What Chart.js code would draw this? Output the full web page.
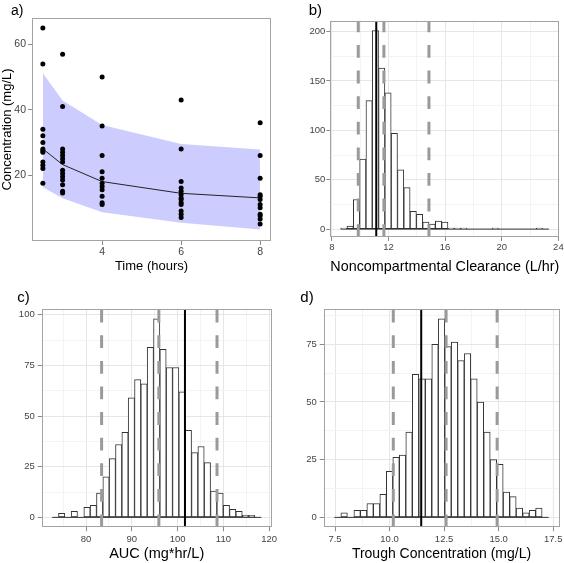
<!DOCTYPE html>
<html>
<head>
<meta charset="utf-8">
<script src="https://cdn.jsdelivr.net/npm/chart.js@4.4.1/dist/chart.umd.min.js"></script>
<style>
  body { margin: 0; background: #fff; }
  #wrap { position: relative; width: 564px; height: 563px; }
  canvas { position: absolute; }
</style>
</head>
<body>
<div id="wrap">
  <canvas id="chartA" width="282" height="281" style="left:0;top:0"></canvas>
  <canvas id="chartB" width="282" height="281" style="left:282px;top:0"></canvas>
  <canvas id="chartC" width="282" height="282" style="left:0;top:281px"></canvas>
  <canvas id="chartD" width="282" height="282" style="left:282px;top:281px"></canvas>
</div>
<script>
// a) observed concentrations at each sampling time + prediction band
const sampleTimes = [2.5, 3, 4, 6, 8];
const conc2h5 = [65, 54, 34, 32, 30, 28, 27.5, 27, 24, 23, 22, 17.5];
const conc3h = [57, 41, 28, 27, 26, 25, 24, 21.5, 20.5, 19.5, 18.5, 17, 15, 14.5];
const conc4h = [50, 35, 26, 21, 19, 17.5, 16.5, 15.5, 13.5, 11.5, 11];
const conc6h = [43, 28, 18, 16, 15, 14, 13, 12.5, 11.5, 11, 9, 8, 7];
const conc8h = [36, 26, 19, 14, 13.5, 12.5, 11, 10, 8, 7.5, 6.5, 5];
const bandUpper = [51.2, 42.8, 35.3, 29.5, 27.8];
const bandMedian = [28.0, 23.2, 18.0, 14.4, 13.0];
const bandLower = [16.3, 12.9, 8.6, 5.4, 3.3];
const timeTicks = [4, 6, 8];
const concTicks = [20, 40, 60];
const concLabels = ['20', '40', '60'];

// b) noncompartmental clearance
const clBinWidth = 0.4455;
const clBins = [8.853, 9.298, 9.744, 10.189, 10.635, 11.080, 11.526, 11.971, 12.417, 12.862, 13.308,
  13.753, 14.199, 14.644, 15.090, 15.535, 15.981, 16.426, 16.872, 17.317, 17.763, 18.208, 18.654,
  19.099, 19.545, 19.990, 20.436, 20.881, 21.327, 21.772, 22.218, 22.663, 23.109];
const clCounts = [1, 3, 30, 71, 130, 201, 163, 138, 97, 60, 42, 18, 15, 7, 5, 8, 7, 1, 1, 1,
  0, 0, 0, 0, 1, 0, 0, 0, 0, 0, 0, 1, 0];
const clObserved = 11.14;
const clInterval = [9.87, 11.68, 14.86];
const clXTicks = [8, 12, 16, 20, 24];
const clXMinor = [10, 14, 18, 22];
const clYTicks = [0, 50, 100, 150, 200];
const clYMinor = [25, 75, 125, 175];

// c) AUC
const aucBinWidth = 1.3836;
const aucBins = [73.292, 74.676, 76.059, 77.443, 78.826, 80.210, 81.594, 82.977, 84.361, 85.744,
  87.128, 88.512, 89.895, 91.279, 92.662, 94.046, 95.430, 96.813, 98.197, 99.580, 100.964,
  102.348, 103.731, 105.115, 106.498, 107.882, 109.266, 110.649, 112.033, 113.416, 114.800,
  116.184, 117.567];
const aucCounts = [0, 2, 0, 3, 0, 5, 6, 12, 20, 29, 36, 42, 59, 68, 66, 84, 98, 83, 74, 74, 62,
  43, 32, 35, 27, 13, 12, 6, 4, 3, 1, 1, 0];
const aucObserved = 101.6;
const aucInterval = [83.4, 95.9, 108.6];
const aucXTicks = [80, 90, 100, 110, 120];
const aucXMinor = [75, 85, 95, 105, 115];
const countTicks100 = [0, 25, 50, 75, 100];
const countMinor100 = [12.5, 37.5, 62.5, 87.5];

// d) trough concentration
const trBinWidth = 0.29758;
const trBins = [7.619, 7.916, 8.214, 8.512, 8.809, 9.107, 9.404, 9.702, 10.000, 10.297, 10.595,
  10.892, 11.190, 11.488, 11.785, 12.083, 12.380, 12.678, 12.976, 13.273, 13.571, 13.868,
  14.166, 14.464, 14.761, 15.059, 15.356, 15.654, 15.952, 16.249, 16.547, 16.844, 17.142];
const trCounts = [0, 2, 0, 3, 3, 6, 6, 10, 20, 26, 27, 37, 62, 60, 60, 75, 86, 74, 76, 68, 71,
  60, 50, 37, 25, 23, 11, 9, 4, 2, 3, 4, 0];
const trObserved = 11.45;
const trInterval = [10.17, 12.59, 14.93];
const trXTicks = [7.5, 10, 12.5, 15, 17.5];
const trXLabels = ['7.5', '10.0', '12.5', '15.0', '17.5'];
const trXMinor = [8.75, 11.25, 13.75, 16.25];
const countTicks75 = [0, 25, 50, 75];

Chart.defaults.font.family = "'Liberation Sans', Arial, sans-serif";
Chart.defaults.animation = false;

// grey box round the panel
const frame = {
  id: 'frame',
  afterDatasetsDraw(chart) {
    const { ctx, chartArea: a } = chart;
    ctx.save();
    ctx.strokeStyle = '#a3a3a3';
    ctx.lineWidth = 1;
    ctx.strokeRect(Math.round(a.left) + 0.5, Math.round(a.top) + 0.5,
      Math.round(a.right - a.left) - 1, Math.round(a.bottom - a.top) - 1);
    ctx.restore();
  }
};

// the "a)" "b)" ... tags
const panelLabel = {
  id: 'panelLabel',
  afterDraw(chart, args, opts) {
    const ctx = chart.ctx;
    ctx.save();
    ctx.font = opts.size + "px 'Liberation Sans', Arial, sans-serif";
    ctx.fillStyle = '#000';
    ctx.textBaseline = 'alphabetic';
    ctx.fillText(opts.text, opts.x, opts.y);
    ctx.restore();
  }
};

const sameTick = (a, b) => Math.abs(a - b) < 1e-6;

function makeScale(o) {
  const major = o.major;
  const minor = o.minor || [];
  const labels = o.labels || major.map(String);
  const isMajor = v => major.some(m => sameTick(m, v));
  return {
    type: 'linear',
    position: o.isX ? 'bottom' : 'left',
    min: o.min,
    max: o.max,
    offset: false,
    afterBuildTicks: s => { s.ticks = major.concat(minor).map(v => ({ value: v })); },
    afterFit: s => {
      if (o.isX) { s.height = o.fit; s.paddingLeft = 0; s.paddingRight = 0; }
      else { s.width = o.fit; s.paddingTop = 0; s.paddingBottom = 0; }
    },
    ticks: {
      autoSkip: false,
      maxRotation: 0,
      minRotation: 0,
      z: 1,
      padding: o.tickPad,
      color: '#444',
      font: { size: o.tickSize },
      callback: v => {
        const i = major.findIndex(m => sameTick(m, v));
        return i < 0 ? '' : labels[i];
      }
    },
    grid: {
      offset: false,
      drawOnChartArea: !!o.grid,
      tickLength: 4,
      lineWidth: 1,
      color: c => isMajor(c.tick.value) ? '#e6e6e6' : '#f3f3f3',
      tickColor: c => isMajor(c.tick.value) ? '#8a8a8a' : 'rgba(0,0,0,0)'
    },
    border: { display: false },
    title: o.title
      ? { display: true, text: o.title, color: '#000', font: { size: o.titleSize }, padding: o.titlePad }
      : { display: false }
  };
}

function vline(x, dashed, yMin, yMax) {
  return {
    type: 'line',
    data: [{ x: x, y: yMin }, { x: x, y: yMax }],
    borderColor: dashed ? '#9a9a9a' : '#000',
    borderWidth: dashed ? 3 : 2,
    borderDash: dashed ? [12.8, 12.8] : [],
    pointRadius: 0,
    order: dashed ? 1 : 0
  };
}

function histogram(canvasId, bins, counts, binWidth, observed, interval, xScale, yScale, padding, label) {
  const datasets = [vline(observed, false, yScale.min, yScale.max)];
  interval.forEach(v => datasets.push(vline(v, true, yScale.min, yScale.max)));
  datasets.push({
    type: 'line',
    data: [{ x: bins[0] - binWidth / 2, y: 0 }, { x: bins[bins.length - 1] + binWidth / 2, y: 0 }],
    borderColor: '#333',
    borderWidth: 1,
    pointRadius: 0,
    order: 2
  });
  datasets.push({
    type: 'bar',
    data: bins.map((x, i) => ({ x: x, y: counts[i] })),
    backgroundColor: '#fff',
    borderColor: '#333',
    borderWidth: 1,
    borderSkipped: false,
    barPercentage: 1,
    categoryPercentage: 1,
    order: 3
  });
  return new Chart(document.getElementById(canvasId), {
    type: 'bar',
    data: { datasets: datasets },
    options: {
      responsive: false,
      layout: { padding: padding, autoPadding: false },
      scales: { x: xScale, y: yScale },
      plugins: { legend: { display: false }, tooltip: { enabled: false }, panelLabel: label }
    },
    plugins: [frame, panelLabel]
  });
}

// panel a
const obsByTime = [conc2h5, conc3h, conc4h, conc6h, conc8h];
const obsPoints = sampleTimes.flatMap((t, i) => obsByTime[i].map(y => ({ x: t, y: y })));
const toXY = arr => sampleTimes.map((t, i) => ({ x: t, y: arr[i] }));

new Chart(document.getElementById('chartA'), {
  type: 'scatter',
  data: {
    datasets: [
      { data: obsPoints, pointRadius: 2.5, pointBackgroundColor: '#000', pointBorderWidth: 0, showLine: false },
      { data: toXY(bandMedian), showLine: true, borderColor: '#222', borderWidth: 1, pointRadius: 0 },
      { data: toXY(bandUpper), showLine: true, borderColor: 'rgba(0,0,0,0)', borderWidth: 0, pointRadius: 0,
        backgroundColor: 'rgba(0,0,255,0.2)', fill: 3 },
      { data: toXY(bandLower), showLine: true, borderColor: 'rgba(0,0,0,0)', borderWidth: 0, pointRadius: 0, fill: false }
    ]
  },
  options: {
    responsive: false,
    layout: { padding: { top: 18, right: 11, left: 0, bottom: 0 }, autoPadding: false },
    scales: {
      x: makeScale({ isX: true, min: 2.225, max: 8.275, major: timeTicks, fit: 40, tickSize: 10.5, tickPad: 1,
        title: 'Time (hours)', titleSize: 13, titlePad: { top: 0, bottom: 6.5 } }),
      y: makeScale({ min: -0.2, max: 68.1, major: concTicks, labels: concLabels, fit: 32, tickSize: 10.5, tickPad: 2,
        title: 'Concentration (mg/L)', titleSize: 13, titlePad: { top: 0, bottom: 0 } })
    },
    plugins: {
      legend: { display: false },
      tooltip: { enabled: false },
      panelLabel: { text: 'a)', x: 11, y: 15, size: 14 }
    }
  },
  plugins: [frame, panelLabel]
});

// panel b
histogram('chartB', clBins, clCounts, clBinWidth, clObserved, clInterval,
  makeScale({ isX: true, min: 7.895, max: 24.065, major: clXTicks, minor: clXMinor, grid: true, fit: 44,
    tickSize: 9.5, tickPad: 1, title: 'Noncompartmental Clearance (L/hr)', titleSize: 14.5,
    titlePad: { top: 0, bottom: 5.3 } }),
  makeScale({ min: -8, max: 211, major: clYTicks, minor: clYMinor, grid: true, fit: 48.3, tickSize: 9.5, tickPad: 1 }),
  { top: 20.7, right: 4.7, left: 0, bottom: 0 },
  { text: 'b)', x: 26.7, y: 15, size: 15 });

// panel c
histogram('chartC', aucBins, aucCounts, aucBinWidth, aucObserved, aucInterval,
  makeScale({ isX: true, min: 70.32, max: 120.54, major: aucXTicks, minor: aucXMinor, grid: true, fit: 35.7,
    tickSize: 9.5, tickPad: 2, title: 'AUC (mg*hr/L)', titleSize: 14.5, titlePad: { top: 0, bottom: 0 } }),
  makeScale({ min: -4.9, max: 102.9, major: countTicks100, minor: countMinor100, grid: true, fit: 41.7,
    tickSize: 9.5, tickPad: 3 }),
  { top: 28, right: 10.3, left: 0, bottom: 0 },
  { text: 'c)', x: 17.3, y: 20.7, size: 15 });

// panel d
histogram('chartD', trBins, trCounts, trBinWidth, trObserved, trInterval,
  makeScale({ isX: true, min: 6.98, max: 17.78, major: trXTicks, labels: trXLabels, minor: trXMinor, grid: true,
    fit: 35.7, tickSize: 9.5, tickPad: 2, title: 'Trough Concentration (mg/L)', titleSize: 14,
    titlePad: { top: 0, bottom: 0 } }),
  makeScale({ min: -4.3, max: 90.3, major: countTicks75, minor: countMinor100, grid: true, fit: 41.7,
    tickSize: 9.5, tickPad: 3 }),
  { top: 28, right: 4.7, left: 0, bottom: 0 },
  { text: 'd)', x: 18.3, y: 20.7, size: 15 });
</script>
</body>
</html>
